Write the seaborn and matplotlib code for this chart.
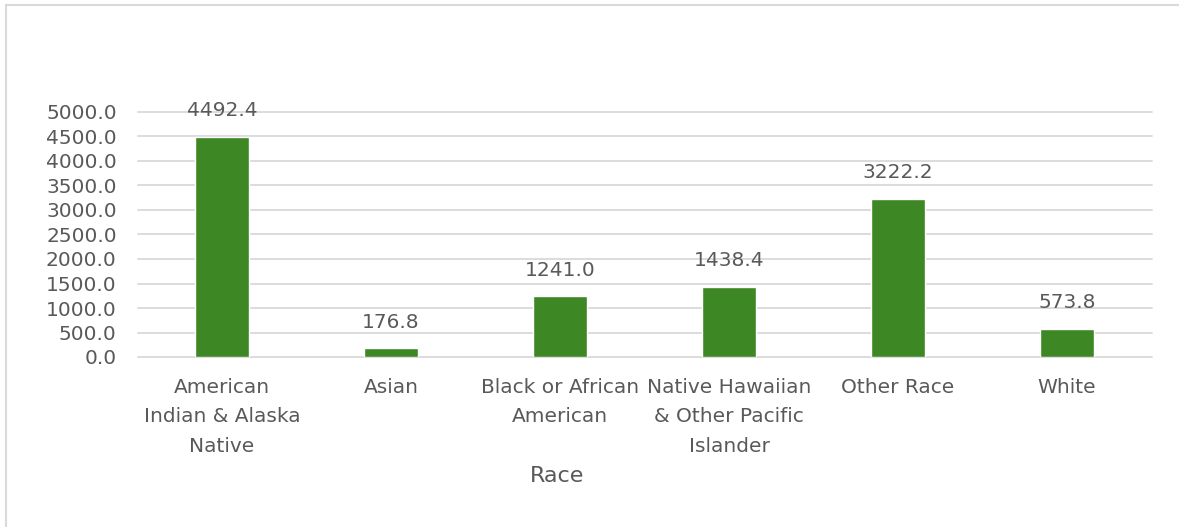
import matplotlib
matplotlib.use("Agg")
import matplotlib.pyplot as plt
import seaborn as sns
import pandas as pd
from matplotlib.lines import Line2D

categories = ["American\nIndian & Alaska\nNative", "Asian", "Black or African\nAmerican",
              "Native Hawaiian\n& Other Pacific\nIslander", "Other Race", "White"]
values = [4492.4, 176.8, 1241.0, 1438.4, 3222.2, 573.8]
yticks = [0, 500, 1000, 1500, 2000, 2500, 3000, 3500, 4000, 4500, 5000]

sns.set_theme(style="white")
plt.rcParams['font.family'] = ['DejaVu Sans']
txt = "#595959"
grid = "#D9D9D9"
green = "#3E8725"

df = pd.DataFrame({"Race": categories, "Value": values})

fig = plt.figure(figsize=(11.79, 5.27), dpi=100)
fig.patch.set_facecolor("white")
W, H = 1179, 527
ax = fig.add_axes([137.5 / W, 1 - 357 / H, 1014 / W, 245 / H])

sns.barplot(data=df, x="Race", y="Value", color=green, width=0.315, ax=ax,
            saturation=1, zorder=3)
ax.set_ylim(0, 5000)
ax.set_yticks(yticks)
ax.set_yticklabels([f"{v:.1f}" for v in yticks], color=txt, fontsize=14.5)
ax.set_xticks(range(len(categories)))
ax.set_xticklabels(categories, color=txt, fontsize=14.5, linespacing=1.7)
ax.tick_params(axis="both", length=0)
ax.tick_params(axis="y", pad=15)
ax.tick_params(axis="x", pad=15)
ax.set_xlim(-0.5, len(categories) - 0.5)
for s in ax.spines.values():
    s.set_visible(False)
ax.yaxis.grid(True, color=grid, linewidth=1.3, zorder=0)
for gl in ax.get_ygridlines():
    gl.set_clip_on(False)
ax.set_axisbelow(True)
ax.set_ylabel("")
ax.set_xlabel("Race", color=txt, fontsize=16)
ax.xaxis.set_label_coords(0.414, -0.485)
ax.xaxis.label.set_va("center")

for i, v in enumerate(values):
    ax.annotate(f"{v:.1f}", (i, v), xytext=(0, 12), textcoords="offset points",
                ha="center", va="bottom", color=txt, fontsize=14.5)

fig.add_artist(Line2D([6 / W, 6 / W], [0, 1 - 5 / H], transform=fig.transFigure,
                      color=grid, linewidth=1.5))
fig.add_artist(Line2D([6 / W, 1], [1 - 5 / H, 1 - 5 / H], transform=fig.transFigure,
                      color=grid, linewidth=1.5))

fig.savefig("out.png", dpi=100, facecolor="white")
